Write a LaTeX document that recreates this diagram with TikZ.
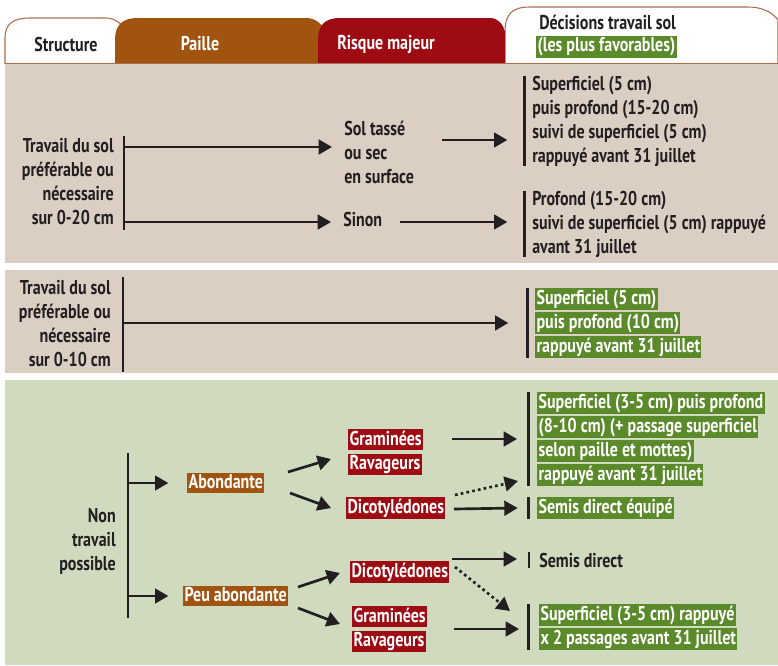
\documentclass[tikz,border=0pt]{standalone}
\usepackage{fontspec}
\setmainfont{PT Sans}[FakeStretch=0.8]
\usetikzlibrary{arrows.meta,positioning}
\definecolor{ink}{HTML}{231F20}
\definecolor{sand}{HTML}{DBCEC3}
\definecolor{sage}{HTML}{CFDABF}
\definecolor{straw}{HTML}{A05410}
\definecolor{risk}{HTML}{9E0B12}
\definecolor{leaf}{HTML}{5A8A2A}
\definecolor{tabline}{HTML}{AA6E50}
\setlength\fboxsep{1pt}
\newcommand\HlStrut{\rule[-3pt]{0pt}{13.4pt}}
\newcommand\Leaf[1]{\colorbox{leaf}{\HlStrut\textcolor{white}{#1}}}
\newcommand\Risk[1]{\colorbox{risk}{\HlStrut\textcolor{white}{#1}}}
\newcommand\Straw[1]{\colorbox{straw}{\HlStrut\textcolor{white}{#1}}}
\tikzset{
    txt/.style={font=\fontsize{15}{18}\selectfont\bfseries, text=ink, inner sep=0pt},
    lft/.style={txt, align=left, anchor=west},
    rgt/.style={txt, align=right, anchor=east},
    arr/.style={draw=ink, line width=2pt, -{Triangle[length=10pt,width=11pt]}},
    dotarr/.style={arr, dash pattern=on 2pt off 2.4pt},
    bar/.style={draw=ink, line width=2.2pt},
    tab/.style={draw=tabline, line width=0.8pt, fill=white}
}
\begin{document}
\begin{tikzpicture}[x=0.75pt,y=-0.75pt]
    \useasboundingbox (0,0) rectangle (778,665);
    % tabs
    \path[tab] (505,64) -- (505,32) .. controls (505,14) and (512,7) .. (530,7)
        -- (748,7) .. controls (762,7) and (772,12) .. (778,20) -- (778,64);
    \path[tab] (5,64) -- (5,38) .. controls (5,24) and (13,18) .. (30,18)
        -- (105,18) .. controls (114,18) and (120,22) .. (126,30) -- (126,64);
    \fill[straw] (115,64) -- (115,40) .. controls (115,26) and (121,18) .. (138,18)
        -- (306,18) .. controls (316,18) and (322,24) .. (327,33) -- (327,64) -- cycle;
    \fill[risk] (318,64) -- (318,40) .. controls (318,26) and (324,18) .. (340,18)
        -- (490,18) .. controls (498,18) and (503,24) .. (505,32) -- (505,64) -- cycle;
    \draw[tabline, line width=0.8pt] (5,64) -- (778,64);
    \node[txt] (hStruct) at (66,44) {Structure};
    \node[txt, text=white] (hPaille) at (200,44) {Paille};
    \node[txt, text=white] (hRisque) at (386,44) {Risque majeur};
    \node[lft] (hDec) at (539,22) {Décisions travail sol};
    \node[lft] (hFav) at (536,47) {\Leaf{(les plus favorables)}};

    % panels
    \fill[sand] (5,64) rectangle (778,263);
    \fill[sand] (5,270) rectangle (778,373);
    \fill[sage] (5,380) rectangle (778,665);

    % travail 0-20 cm
    \node[rgt] (trav20) at (114,182) {Travail du sol\\préférable ou\\nécessaire\\sur 0-20 cm};
    \draw[bar] (124,136) coordinate (b20) -- (124,230);
    \node[lft] (tasse) at (344,152) {Sol tassé\\ou sec\\en surface};
    \node[lft] (sinon) at (343,219) {Sinon};
    \node[lft] (dec20a) at (532,121) {Superficiel (5 cm)\\puis profond (15-20 cm)\\suivi de superficiel (5 cm)\\rappuyé avant 31 juillet};
    \node[lft] (dec20b) at (532,224) {Profond (15-20 cm)\\suivi de superficiel (5 cm) rappuyé\\avant 31 juillet};
    \draw[bar] ([xshift=-5.5pt]dec20a.north west) -- ([xshift=-5.5pt]dec20a.south west);
    \draw[bar] ([xshift=-5.5pt]dec20b.north west) -- ([xshift=-5.5pt]dec20b.south west);
    \draw[arr] (b20 |- 0,147) -- ([xshift=-9pt]tasse.west |- 0,147);
    \draw[arr] (b20 |- 0,222) -- ([xshift=-9pt]sinon.west |- 0,222);
    \draw[arr] (442,140) -- ([xshift=-18.5pt]dec20a.west |- 0,140);
    \draw[arr] ([xshift=13pt]sinon.east |- 0,222) -- ([xshift=-18.5pt]dec20b.west |- 0,222);

    % travail 0-10 cm
    \node[rgt] (trav10) at (111,324) {Travail du sol\\préférable ou\\nécessaire\\sur 0-10 cm};
    \draw[bar] (123,277) coordinate (b10) -- (123,372);
    \node[lft] (dec10) at (535,323) {\Leaf{Superficiel (5 cm)}\\\Leaf{puis profond (10 cm)}\\\Leaf{rappuyé avant 31 juillet}};
    \draw[bar] ([xshift=-5.5pt]dec10.north west) -- ([xshift=-5.5pt]dec10.south west);
    \draw[arr] (b10 |- 0,323) -- ([xshift=-20pt]dec10.west |- 0,323);

    % non travail
    \node[rgt] (nontrav) at (116,541) {Non\\travail\\possible};
    \draw[bar] (128,453) coordinate (bnt) -- (128,618);
    \node[lft] (abond) at (187,483) {\Straw{Abondante}};
    \node[lft] (peuab) at (183,596) {\Straw{Peu abondante}};
    \draw[arr] (bnt |- abond) -- ([xshift=-14pt]abond.west);
    \draw[arr] (bnt |- peuab) -- ([xshift=-11pt]peuab.west);

    \node[lft] (gramA) at (348,452) {\Risk{Graminées}\\\Risk{Ravageurs}};
    \node[lft] (dicoA) at (346,508) {\Risk{Dicotylédones}};
    \node[lft] (dicoB) at (350,572) {\Risk{Dicotylédones}};
    \node[lft] (gramB) at (352,629) {\Risk{Graminées}\\\Risk{Ravageurs}};
    \draw[arr] (288,472) -- (331,459);
    \draw[arr] (290,493) -- (331,508);
    \draw[arr] (298,587) -- (340,573);
    \draw[arr] (298,608) -- (340,624);

    \node[lft] (decA) at (537,439) {\Leaf{Superficiel (3-5 cm) puis profond}\\\Leaf{(8-10 cm) (+ passage superficiel}\\\Leaf{selon paille et mottes)}\\\Leaf{rappuyé avant 31 juillet}};
    \node[lft] (decB) at (537,508) {\Leaf{Semis direct équipé}};
    \node[lft] (decC) at (539,560) {Semis direct};
    \node[lft] (decD) at (539,627) {\Leaf{Superficiel (3-5 cm) rappuyé}\\\Leaf{x 2 passages avant 31 juillet}};
    \draw[bar] ([xshift=-6.5pt]decA.north west) -- ([xshift=-6.5pt]decA.south west);
    \draw[bar] ([xshift=-6.5pt]decB.north west) -- ([xshift=-6.5pt]decB.south west);
    \draw[bar] ([xshift=-7.5pt]decC.north west) -- ([xshift=-7.5pt]decC.south west);
    \draw[bar] ([xshift=-8pt]decD.north west) -- ([xshift=-8pt]decD.south west);

    \draw[arr] (452,439) -- ([xshift=-15pt]decA.west |- 0,439);
    \draw[dotarr] (455,495) -- (518,481);
    \draw[arr] (454,509) -- ([xshift=-14.5pt]decB.west);
    \draw[arr] (452,559) -- ([xshift=-16.5pt]decC.west |- 0,559);
    \draw[dotarr] (455,567) -- (510,611);
    \draw[arr] (454,629) -- ([xshift=-15pt]decD.west |- 0,629);
\end{tikzpicture}
\end{document}
